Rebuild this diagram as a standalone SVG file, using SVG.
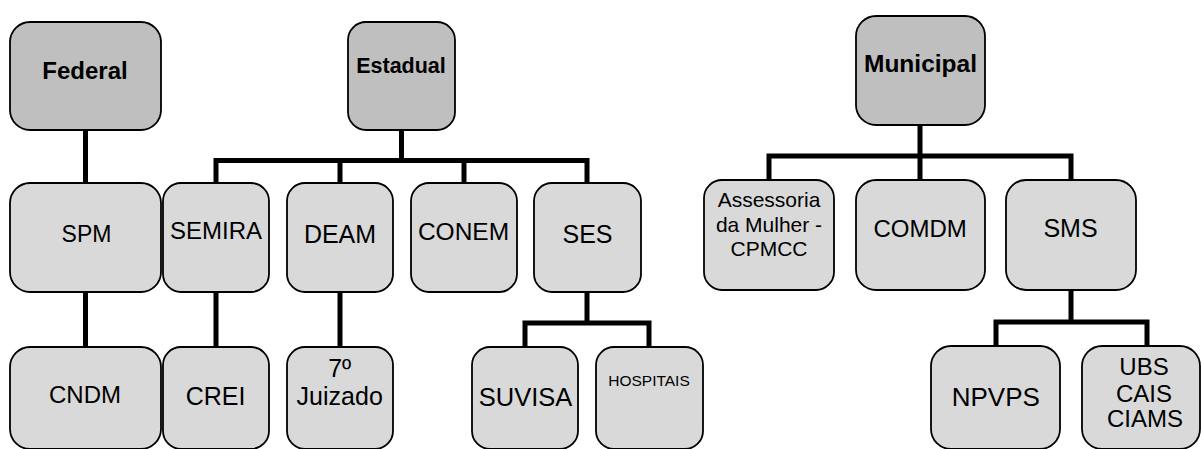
<svg xmlns="http://www.w3.org/2000/svg" width="1201" height="449" viewBox="0 0 1201 449">
<style>
.top{fill:#bfbfbf;stroke:#000;stroke-width:1.8}
.box{fill:#d9d9d9;stroke:#000;stroke-width:1.8}
.con{fill:none;stroke:#000;stroke-width:5;stroke-linecap:square;stroke-linejoin:miter}
text{font-family:"Liberation Sans",Arial,sans-serif;text-anchor:middle;fill:#000}
.b{font-weight:bold}
</style>
<rect width="1201" height="449" fill="#fff"/>
<g id="connectors">
<path class="con" d="M85.5,132 V181 M85.5,294 V345"/>
<path class="con" d="M401.5,132 V160.5 M216,181 V160.5 H587 V181 M340,160.5 V181 M464,160.5 V181"/>
<path class="con" d="M216,294 V345 M340,294 V345"/>
<path class="con" d="M587,294 V323 M525,345 V323 H649 V345"/>
<path class="con" d="M920,127 V156 M769,178 V156 H1071 V178 M920,156 V178"/>
<path class="con" d="M1071,292 V322 M996,344 V322 H1147 V344"/>
</g>
<g id="federal"><rect class="top" x="10" y="22" width="151" height="108" rx="20"/><text class="b" x="85" y="79" font-size="24">Federal</text></g>
<g id="estadual"><rect class="top" x="348" y="22" width="107" height="108" rx="18"/><text class="b" x="401" y="73" font-size="21.5">Estadual</text></g>
<g id="municipal"><rect class="top" x="856" y="16" width="129" height="109" rx="20"/><text class="b" x="920.5" y="72" font-size="24.5">Municipal</text></g>
<g id="spm"><rect class="box" x="10" y="183" width="151" height="109" rx="20"/><text x="86.5" y="242" font-size="23">SPM</text></g>
<g id="semira"><rect class="box" x="163" y="183" width="106" height="109" rx="18"/><text x="216" y="239.3" font-size="24">SEMIRA</text></g>
<g id="deam"><rect class="box" x="287" y="183" width="106" height="109" rx="18"/><text x="340" y="243.3" font-size="25">DEAM</text></g>
<g id="conem"><rect class="box" x="411" y="183" width="106" height="109" rx="18"/><text x="463.5" y="240" font-size="24.5">CONEM</text></g>
<g id="ses"><rect class="box" x="534" y="183" width="107" height="109" rx="18"/><text x="587.5" y="242.7" font-size="25">SES</text></g>
<g id="assessoria"><rect class="box" x="704" y="180" width="130" height="110" rx="18"/><text x="769" y="206.7" font-size="21">Assessoria</text><text x="769" y="232.3" font-size="21">da Mulher -</text><text x="769" y="256" font-size="21">CPMCC</text></g>
<g id="comdm"><rect class="box" x="856" y="180" width="129" height="110" rx="20"/><text x="920.2" y="236.7" font-size="24">COMDM</text></g>
<g id="sms"><rect class="box" x="1006" y="180" width="130" height="110" rx="20"/><text x="1070.5" y="236.7" font-size="25">SMS</text></g>
<g id="cndm"><rect class="box" x="10" y="347" width="151" height="102" rx="20"/><text x="85" y="403.3" font-size="24">CNDM</text></g>
<g id="crei"><rect class="box" x="163" y="347" width="106" height="102" rx="18"/><text x="215.5" y="405" font-size="25">CREI</text></g>
<g id="juizado"><rect class="box" x="287" y="347" width="106" height="102" rx="18"/><text x="339.7" y="377" font-size="25">7º</text><text x="339.7" y="405" font-size="25">Juizado</text></g>
<g id="suvisa"><rect class="box" x="472" y="347" width="106" height="102" rx="18"/><text x="525.5" y="405.7" font-size="25.5">SUVISA</text></g>
<g id="hospitais"><rect class="box" x="596" y="347" width="107" height="102" rx="18"/><text x="649" y="385.7" font-size="15.5">HOSPITAIS</text></g>
<g id="npvps"><rect class="box" x="931" y="346" width="129" height="103" rx="20"/><text x="995.8" y="405.7" font-size="26">NPVPS</text></g>
<g id="ubs"><rect class="box" x="1082" y="346" width="118" height="103" rx="20"/><text x="1144" y="375" font-size="24">UBS</text><text x="1144" y="401.7" font-size="24">CAIS</text><text x="1145" y="427.3" font-size="24">CIAMS</text></g>
</svg>
